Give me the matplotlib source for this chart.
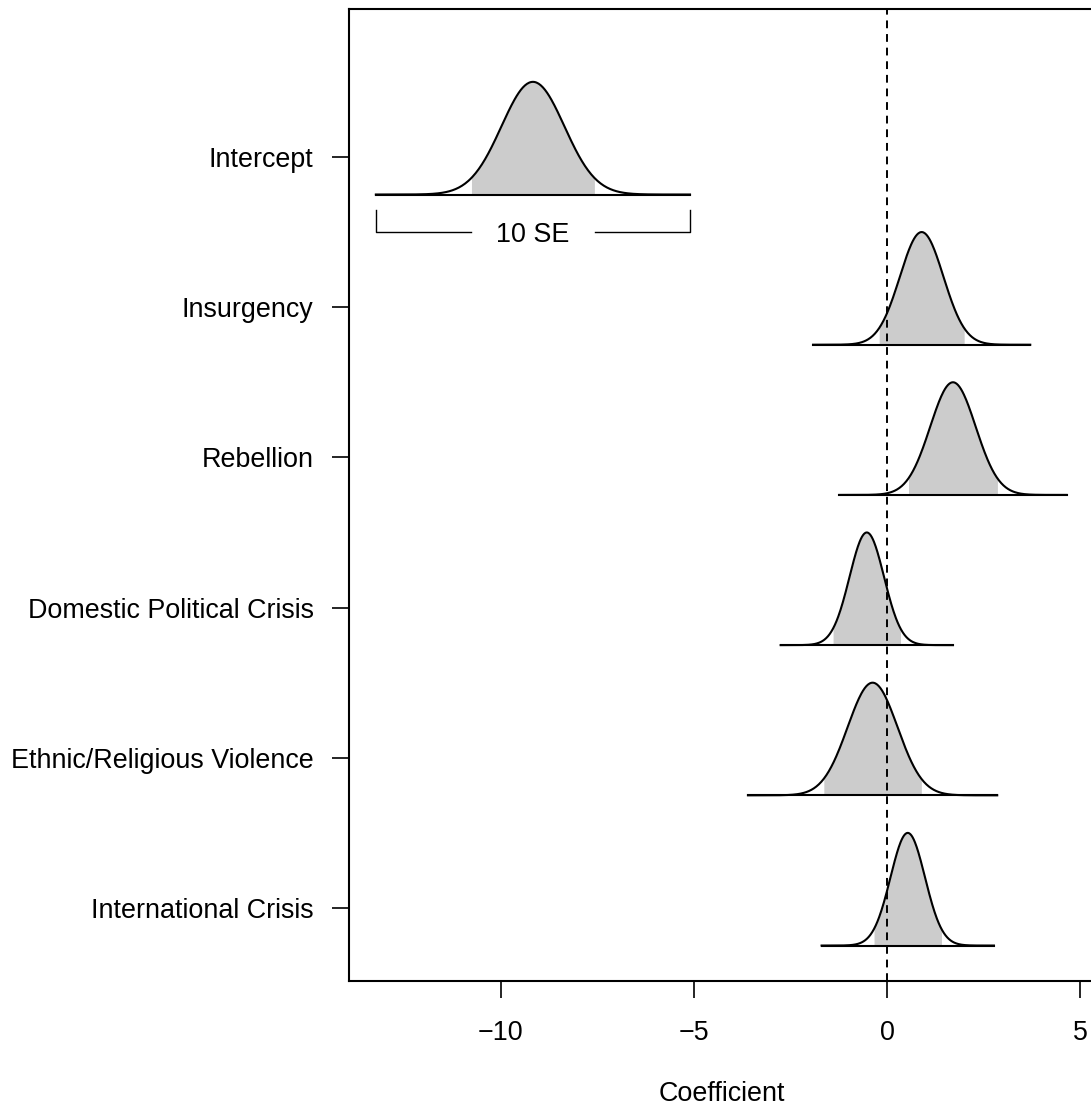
import matplotlib
matplotlib.use("Agg")
import matplotlib.pyplot as plt
import numpy as np

plt.rcParams["font.family"] = ["Liberation Sans", "DejaVu Sans"]

# model terms, top to bottom
labels = ["Intercept", "Insurgency", "Rebellion", "Domestic Political Crisis",
          "Ethnic/Religious Violence", "International Crisis"]
coef = [-9.17, 0.89, 1.70, -0.53, -0.38, 0.53]
se = [0.813, 0.562, 0.588, 0.446, 0.645, 0.446]
xticks = [-10, -5, 0, 5]

FS = 19.4
LW = 1.5
W, H = 1091, 1114

fig = plt.figure(figsize=(W / 100, H / 100), dpi=100)
left, right, top, bottom = 349, 1094, 9, 981
ax = fig.add_axes([left / W, (H - bottom) / H, (right - left) / W, (bottom - top) / H])

rows = np.arange(len(labels))[::-1] + 1
for row, mu, s in zip(rows, coef, se):
    base = row - 0.25
    x = np.linspace(mu - 5 * s, mu + 5 * s, 300)
    dens = base + 0.75 * np.exp(-0.5 * ((x - mu) / s) ** 2)
    ci = np.abs(x - mu) <= 1.96 * s
    ax.fill_between(x[ci], base, dens[ci], color="#cccccc", lw=0, zorder=1)
    ax.plot([x[0], x[-1]], [base, base], color="black", lw=LW, zorder=2)
    ax.plot(x, dens, color="black", lw=LW, zorder=2)

# scale bar under the intercept showing the 10 SE span
mu0, s0 = coef[0], se[0]
yb = rows[0] - 0.5
x0, x1 = mu0 - 5 * s0, mu0 + 5 * s0
gap = 1.6
ax.plot([x0, x0, mu0 - gap], [yb + 0.15, yb, yb], color="black", lw=1.0, zorder=2)
ax.plot([mu0 + gap, x1, x1], [yb, yb, yb + 0.15], color="black", lw=1.0, zorder=2)
ax.text(mu0, yb - 0.02, "10 SE", ha="center", va="center", fontsize=FS)

ax.axvline(0, color="black", lw=1.4, ls=(0, (4, 3)), zorder=3)

ax.set_xlim(-13.93, 5.35)
ax.set_ylim(0.514, 6.985)
ax.set_yticks(rows)
ax.set_yticklabels(labels)
ax.set_xticks(xticks)
ax.set_xticklabels([str(t).replace("-", "\u2212") for t in xticks])
ax.tick_params(axis="both", direction="out", length=12, width=1.2, labelsize=FS)
ax.tick_params(axis="y", pad=13.5)
ax.tick_params(axis="x", pad=16)
for sp in ax.spines.values():
    sp.set_linewidth(LW)
ax.set_xlabel("Coefficient", fontsize=FS, labelpad=25.5)

fig.savefig("out.png", dpi=100)
